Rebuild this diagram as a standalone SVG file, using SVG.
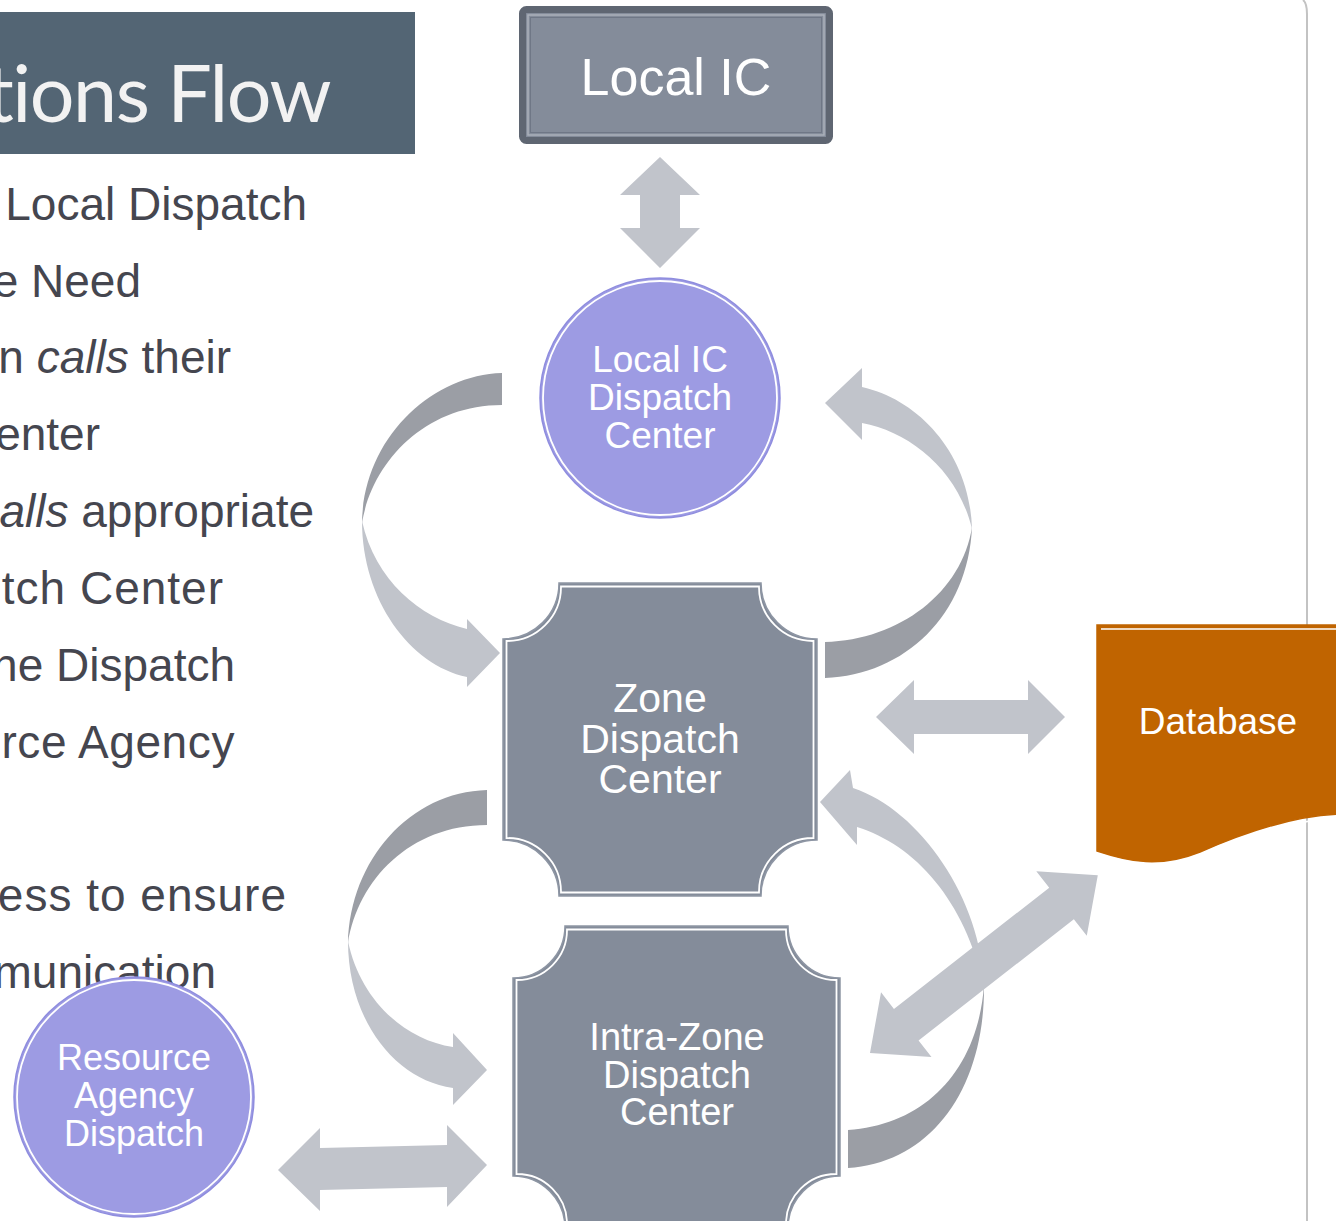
<svg xmlns="http://www.w3.org/2000/svg" width="1336" height="1221" viewBox="0 0 1336 1221">
<defs>
<style>
.body{font-family:"Liberation Sans",Arial,sans-serif;font-size:46px;fill:#45464f;}
.ttl{font-family:Lato,"Open Sans",sans-serif;font-size:79px;fill:#f2f2f2;letter-spacing:-1.5px;}
.nt{font-family:"Liberation Sans",Arial,sans-serif;fill:#ffffff;text-anchor:middle;}
.lt{fill:#c1c4cb;}
.dk{fill:#9b9ea5;}
.plq{fill:#848c9a;stroke:#8e96a4;stroke-width:1.5;}
.plqin{fill:none;stroke:#ffffff;stroke-width:1.8;}
.circ{fill:#9d9be3;stroke:#8f8ddf;stroke-width:1.5;}
.circin{fill:none;stroke:#ffffff;stroke-width:1.8;}
</style>
</defs>
<rect width="1336" height="1221" fill="#ffffff"/>

<!-- right frame line -->
<path d="M1303,0 Q1307,3 1307,14 V1221" fill="none" stroke="#c3c3c3" stroke-width="2"/>

<!-- title -->
<g id="title">
<rect x="0" y="12" width="415" height="142" fill="#536574"/>
<text class="ttl" x="330" y="122" text-anchor="end">tions Flow</text>
</g>

<!-- left text -->
<g id="bullets" text-anchor="end">
<text class="body" x="307" y="220">Local Dispatch</text>
<text class="body" x="141" y="297">e Need</text>
<text class="body" x="231" y="373">n <tspan font-style="italic">calls</tspan> their</text>
<text class="body" x="100" y="450">enter</text>
<text class="body" x="314" y="527"><tspan font-style="italic">alls</tspan> appropriate</text>
<text class="body" x="224" y="604" letter-spacing="1">tch Center</text>
<text class="body" x="235" y="681">ne Dispatch</text>
<text class="body" x="235" y="758" letter-spacing="0.6">rce Agency</text>
<text class="body" x="287" y="911" letter-spacing="1">ess to ensure</text>
<text class="body" x="216" y="988">munication</text>
</g>

<!-- connectors -->
<g id="connectors">
<!-- Local IC <-> Local IC Dispatch -->
<polygon class="lt" points="660,157 700,195 680,195 680,228 700,228 660,268 620,228 640,228 640,195 620,195"/>
<!-- curved A: Local IC Dispatch -> Zone -->
<path class="dk" d="M502,373 C430,375 363,440 362,523 C372,462 425,405 502,405 Z"/>
<path class="lt" d="M362,521 C362,600 410,665 467,677 L467,687 L500,653 L467,619 L467,629 C420,618 375,580 362,521 Z"/>
<!-- curved B: Zone -> Local IC Dispatch -->
<path class="dk" d="M825,678 C905,675 968,615 972,527 C962,592 900,640 825,642 Z"/>
<path class="lt" d="M972,529 C970,455 920,400 862,387 L862,368 L825,403 L862,440 L862,423 C910,432 958,470 972,529 Z"/>
<!-- Zone <-> Database -->
<polygon class="lt" points="876,717 914,680 914,700 1028,700 1028,680 1065,717 1028,754 1028,734 914,734 914,754"/>
<!-- curved C: Zone -> Intra-Zone -->
<path class="dk" d="M487,790 C410,792 350,860 348,943 C358,880 410,825 487,825 Z"/>
<path class="lt" d="M348,941 C348,1020 395,1080 453,1088 L453,1105 L487,1070 L453,1033 L453,1047 C405,1040 360,1000 348,941 Z"/>
<!-- curved D: Intra-Zone -> Zone -->
<path class="dk" d="M848,1168 C930,1163 985,1090 984,985 C978,1070 925,1125 848,1130 Z"/>
<path class="lt" d="M984,987 C982,900 920,810 853,788 L850,770 L820,802 L857,845 L857,827 C915,845 965,900 984,987 Z"/>
<!-- Intra-Zone <-> Database -->
<polygon class="lt" transform="translate(870,1053) rotate(-37.98)" points="0,0 46,-41 46,-20 243,-20 243,-41 289,0 243,41 243,20 46,20 46,41"/>
<!-- Resource <-> Intra-Zone -->
<polygon class="lt" points="278,1170 320,1128 320,1148 447,1145 447,1125 487,1165 447,1207 447,1187 320,1190 320,1211"/>
</g>

<!-- Local IC -->
<g id="local-ic">
<rect x="522.5" y="9.5" width="307" height="131" rx="4" fill="#848c9a" stroke="#5f6672" stroke-width="7"/>
<rect x="528" y="15" width="296" height="120" fill="none" stroke="#aab0ba" stroke-width="1.5"/>
<rect x="530.5" y="17.5" width="291" height="115" fill="none" stroke="#6f7786" stroke-width="1"/>
<text class="nt" x="676" y="95" font-size="52">Local IC</text>
</g>

<!-- Local IC Dispatch Center -->
<g id="local-ic-dispatch">
<circle class="circ" cx="660" cy="398" r="120"/>
<circle class="circin" cx="660" cy="398" r="117"/>
<text class="nt" x="660" y="372" font-size="37">Local IC</text>
<text class="nt" x="660" y="410" font-size="37">Dispatch</text>
<text class="nt" x="660" y="448" font-size="37">Center</text>
</g>

<!-- Zone Dispatch Center -->
<g id="zone-dispatch">
<path class="plq" d="M559,583 H761 A56,56 0 0 0 817,639 V840 A56,56 0 0 0 761,896 H559 A56,56 0 0 0 503,840 V639 A56,56 0 0 0 559,583 Z"/>
<path class="plqin" d="M561,586.5 H759 A54,54 0 0 0 813.5,641 V838 A54,54 0 0 0 759,892.5 H561 A54,54 0 0 0 506.5,838 V641 A54,54 0 0 0 561,586.5 Z"/>
<text class="nt" x="660" y="712" font-size="41">Zone</text>
<text class="nt" x="660" y="753" font-size="41">Dispatch</text>
<text class="nt" x="660" y="793" font-size="41">Center</text>
</g>

<!-- Intra-Zone Dispatch Center -->
<g id="intra-zone-dispatch">
<path class="plq" d="M565,926 H788 A52,52 0 0 0 840,978 V1176 A52,52 0 0 0 788,1228 H565 A52,52 0 0 0 513,1176 V978 A52,52 0 0 0 565,926 Z"/>
<path class="plqin" d="M567,929.5 H786 A50,50 0 0 0 836.5,980 V1174 A50,50 0 0 0 786,1224.5 H567 A50,50 0 0 0 516.5,1174 V980 A50,50 0 0 0 567,929.5 Z"/>
<text class="nt" x="677" y="1050" font-size="38">Intra-Zone</text>
<text class="nt" x="677" y="1088" font-size="38">Dispatch</text>
<text class="nt" x="677" y="1125" font-size="38">Center</text>
</g>

<!-- Database -->
<g id="database">
<path d="M1097,625 H1345 V814 C1300,814 1250,830 1200,852 C1160,868 1130,862 1097,851 Z" fill="#c06400" stroke="#c06400" stroke-width="1.5"/>
<path d="M1101,629 H1345 V818 C1300,818 1252,834 1202,856 C1162,871 1130,866 1101,856" fill="none" stroke="#ffffff" stroke-width="1.5"/>
<text class="nt" x="1218" y="734" font-size="37">Database</text>
</g>

<!-- Resource Agency Dispatch -->
<g id="resource-agency-dispatch">
<circle class="circ" cx="134" cy="1097" r="120"/>
<circle class="circin" cx="134" cy="1097" r="117"/>
<text class="nt" x="134" y="1070" font-size="36">Resource</text>
<text class="nt" x="134" y="1108" font-size="36">Agency</text>
<text class="nt" x="134" y="1146" font-size="36">Dispatch</text>
</g>
</svg>
